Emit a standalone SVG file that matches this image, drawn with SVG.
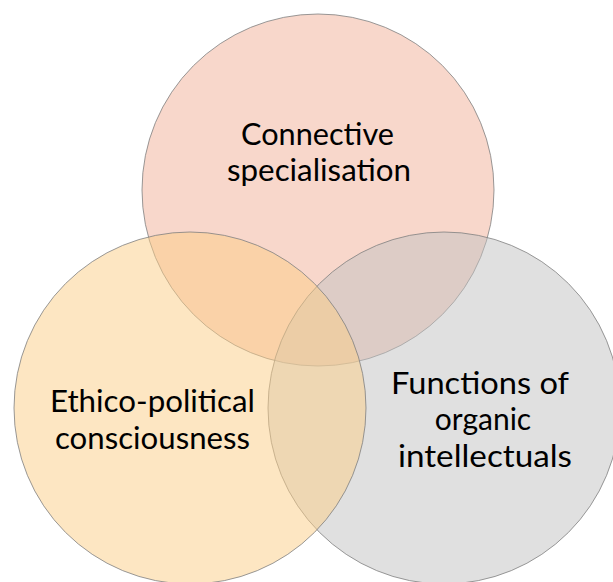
<svg xmlns="http://www.w3.org/2000/svg" width="613" height="582" viewBox="0 0 613 582">
<style>
.c{stroke:#7f7f7f;stroke-opacity:0.8;stroke-width:1;fill-opacity:0.5}
.t{font-family:Lato,"Open Sans","Liberation Sans",sans-serif;font-size:30px;fill:#000;text-anchor:middle}
</style>
<rect width="613" height="582" fill="#fff"/>
<g id="node-connective">
<circle class="c" cx="318" cy="190" r="176" fill="#F1AF97"/>
</g>
<g id="node-functions">
<circle class="c" cx="444" cy="408" r="176" fill="#C1C1C1"/>
</g>
<g id="node-ethico">
<circle class="c" cx="190" cy="408" r="176" fill="#FBCD85"/>
</g>
<g id="labels">
<text class="t" x="317.5" y="144.5" textLength="153" lengthAdjust="spacingAndGlyphs">Connective</text>
<text class="t" x="319" y="181" textLength="184" lengthAdjust="spacingAndGlyphs">specialisation</text>
<text class="t" x="152.5" y="412" textLength="205" lengthAdjust="spacingAndGlyphs">Ethico-political</text>
<text class="t" x="152.5" y="449" textLength="195" lengthAdjust="spacingAndGlyphs">consciousness</text>
<text class="t" x="480" y="394" textLength="178" lengthAdjust="spacingAndGlyphs">Functions of</text>
<text class="t" x="483" y="430">organic</text>
<text class="t" x="485" y="467" textLength="174" lengthAdjust="spacingAndGlyphs">intellectuals</text>
</g>
<g id="connectors"></g>
</svg>
